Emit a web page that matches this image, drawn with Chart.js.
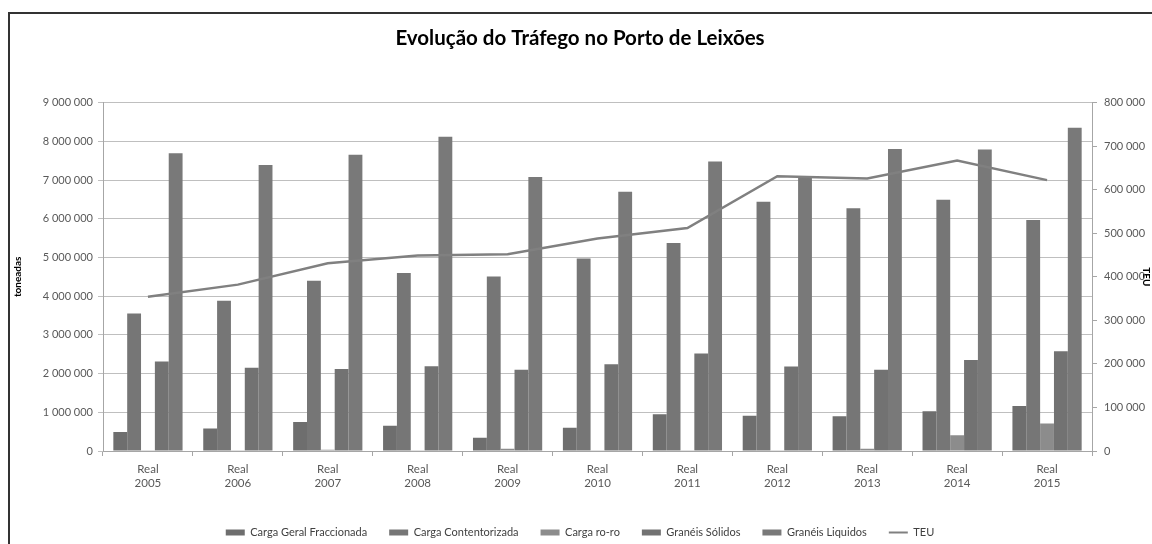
<!DOCTYPE html>
<html>
<head>
<meta charset="utf-8">
<script src="https://cdn.jsdelivr.net/npm/chart.js@4.4.1/dist/chart.umd.min.js"></script>
<style>
  html, body { margin:0; padding:0; background:#fff; }
  #wrap { position:relative; width:1152px; height:544px; }
  #frame { position:absolute; left:8px; top:12px; width:1160px; height:560px; border-left:2px solid #333; border-top:2px solid #333; pointer-events:none; }
</style>
</head>
<body>
<div id="wrap">
  <canvas id="chart" width="1152" height="544"></canvas>
  <div id="frame"></div>
</div>
<script>
// Chart data
const years = ['2005','2006','2007','2008','2009','2010','2011','2012','2013','2014','2015'];
const cargaGeral     = [490000, 580000, 750000, 650000, 340000, 600000, 950000, 910000, 900000, 1030000, 1160000];
const contentorizada = [3550000, 3880000, 4400000, 4600000, 4510000, 4970000, 5370000, 6440000, 6270000, 6490000, 5970000];
const cargaRoro      = [5000, 5000, 30000, 5000, 60000, 5000, 5000, 5000, 60000, 410000, 710000];
const graneisSolidos = [2310000, 2150000, 2120000, 2190000, 2100000, 2240000, 2520000, 2180000, 2100000, 2350000, 2580000];
const graneisLiquidos= [7690000, 7390000, 7650000, 8120000, 7080000, 6700000, 7480000, 7050000, 7800000, 7790000, 8350000];
const teu            = [354000, 382000, 431000, 449000, 452000, 488000, 512000, 631000, 626000, 667000, 622000];

const FONT = 'Lato, "Open Sans", sans-serif';
const fmt = v => String(v).replace(/\B(?=(\d{3})+(?!\d))/g, ' ');

const barSet = (label, data, color) => ({
  type:'bar', label, data, backgroundColor:color, borderWidth:0,
  yAxisID:'y', order:1, categoryPercentage:0.77, barPercentage:1
});

new Chart(document.getElementById('chart'), {
  data:{
    labels: years.map(y => ['Real', y]),
    datasets:[
      barSet('Carga Geral Fraccionada', cargaGeral, '#6e6e6e'),
      barSet('Carga Contentorizada', contentorizada, '#767676'),
      barSet('Carga ro-ro', cargaRoro, '#8c8c8c'),
      barSet('Granéis Sólidos', graneisSolidos, '#727272'),
      barSet('Granéis Liquidos', graneisLiquidos, '#797979'),
      { type:'line', label:'TEU', data:teu, borderColor:'#808080', backgroundColor:'#808080',
        borderWidth:2.5, pointRadius:0, tension:0, yAxisID:'y1', order:0 }
    ]
  },
  options:{
    responsive:false,
    animation:false,
    layout:{ padding:{ left:8, right:0, top:0, bottom:-4 } },
    plugins:{
      title:{ display:true, text:'Evolução do Tráfego no Porto de Leixões', color:'#000',
        font:{ family:FONT, size:20.5, weight:'bold' }, padding:{ top:26, bottom:52 } },
      legend:{ position:'bottom',
        labels:{ font:{ family:FONT, size:11 }, color:'#404040', usePointStyle:true,
          pointStyleWidth:19, boxHeight:6, padding:22,
          sort:(a, b) => a.datasetIndex - b.datasetIndex,
          generateLabels(chart){
            const items = Chart.defaults.plugins.legend.labels.generateLabels(chart);
            items.forEach(it => {
              const ds = chart.data.datasets[it.datasetIndex];
              if (ds.type === 'line') { it.pointStyle = 'line'; it.strokeStyle = '#808080'; it.lineWidth = 2; }
              else { it.pointStyle = 'rect'; it.lineWidth = 0; }
            });
            return items;
          }
        } },
      tooltip:{ enabled:false }
    },
    scales:{
      x:{
        offset:true,
        grid:{ display:true, drawOnChartArea:false, drawTicks:true, tickLength:5, offset:true, color:'#a6a6a6' },
        border:{ display:true, color:'#a6a6a6' },
        ticks:{ color:'#595959', font:{ family:FONT, size:11.5, lineHeight:1.25 }, padding:6, maxRotation:0 },
        afterFit(s){ s.height = 54; }
      },
      y:{
        position:'left', min:0, max:9000000,
        grid:{ color:'#bfbfbf', tickLength:5 },
        border:{ display:true, color:'#a6a6a6' },
        ticks:{ stepSize:1000000, color:'#595959', font:{ family:FONT, size:11 }, padding:5, callback:fmt },
        title:{ display:true, text:'toneadas', color:'#000', font:{ family:FONT, size:10, weight:'bold' }, padding:4 },
        afterFit(s){ s.width = 95; }
      },
      y1:{
        position:'right', min:0, max:800000,
        grid:{ drawOnChartArea:false, tickLength:5, color:'#a6a6a6' },
        border:{ display:true, color:'#a6a6a6' },
        ticks:{ stepSize:100000, color:'#595959', font:{ family:FONT, size:11 }, padding:7, callback:fmt },
        title:{ display:true, text:'TEU', color:'#000', font:{ family:FONT, size:10, weight:'bold' }, padding:0 },
        afterFit(s){ s.width = 60; }
      }
    }
  }
});
</script>
</body>
</html>
